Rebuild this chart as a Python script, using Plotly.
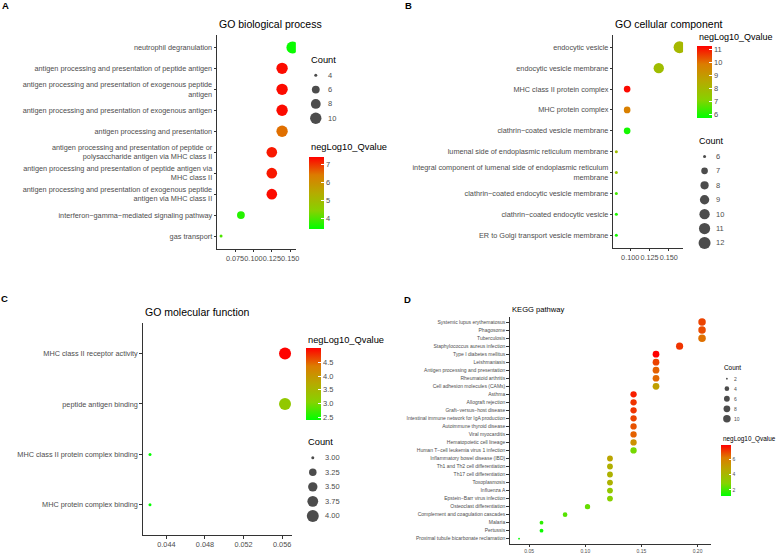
import math
import plotly.graph_objects as go

W, H = 778, 554
FONT = "Liberation Sans, Arial, Helvetica, sans-serif"
GRAY = "#4D4D4D"
AXC = "#333333"

# ---------------- data ----------------
bp_terms = [
    "neutrophil degranulation",
    "antigen processing and presentation of peptide antigen",
    "antigen processing and presentation of exogenous peptide<br>antigen",
    "antigen processing and presentation of exogenous antigen",
    "antigen processing and presentation",
    "antigen processing and presentation of peptide or<br>polysaccharide antigen via MHC class II",
    "antigen processing and presentation of peptide antigen via<br>MHC class II",
    "antigen processing and presentation of exogenous peptide<br>antigen via MHC class II",
    "interferon−gamma−mediated signaling pathway",
    "gas transport",
]
bp_ratio = [0.153, 0.139, 0.139, 0.139, 0.139, 0.125, 0.125, 0.125, 0.083, 0.056]
bp_count = [11, 10, 10, 10, 10, 9, 9, 9, 6, 4]
bp_q = [3.5, 7.3, 7.3, 7.3, 6.5, 7.2, 7.2, 7.3, 3.7, 4.0]
bp_count_legend = [4, 6, 8, 10]
bp_q_ticks = [4, 5, 6, 7]

cc_terms = [
    "endocytic vesicle",
    "endocytic vesicle membrane",
    "MHC class II protein complex",
    "MHC protein complex",
    "clathrin−coated vesicle membrane",
    "lumenal side of endoplasmic reticulum membrane",
    "integral component of lumenal side of endoplasmic reticulum<br>membrane",
    "clathrin−coated endocytic vesicle membrane",
    "clathrin−coated endocytic vesicle",
    "ER to Golgi transport vesicle membrane",
]
cc_ratio = [0.164, 0.137, 0.096, 0.096, 0.096, 0.082, 0.082, 0.082, 0.082, 0.082]
cc_count = [12, 10, 7, 7, 7, 6, 6, 6, 6, 6]
cc_q = [8.0, 7.8, 11.1, 9.7, 5.9, 7.8, 7.5, 6.4, 6.0, 5.9]
cc_count_legend = [6, 7, 8, 9, 10, 11, 12]
cc_q_ticks = [6, 7, 8, 9, 10, 11]

mf_terms = [
    "MHC class II receptor activity",
    "peptide antigen binding",
    "MHC class II protein complex binding",
    "MHC protein complex binding",
]
mf_ratio = [0.0563, 0.0563, 0.0423, 0.0423]
mf_count = [4, 4, 3, 3]
mf_q = [5.0, 3.2, 2.4, 2.4]
mf_count_legend = [3.00, 3.25, 3.50, 3.75, 4.00]
mf_q_ticks = [2.5, 3.0, 3.5, 4.0, 4.5]

kegg_terms = [
    "Systemic lupus erythematosus", "Phagosome", "Tuberculosis",
    "Staphylococcus aureus infection", "Type I diabetes mellitus", "Leishmaniasis",
    "Antigen processing and presentation", "Rheumatoid arthritis",
    "Cell adhesion molecules (CAMs)", "Asthma", "Allograft rejection",
    "Graft−versus−host disease", "Intestinal immune network for IgA production",
    "Autoimmune thyroid disease", "Viral myocarditis", "Hematopoietic cell lineage",
    "Human T−cell leukemia virus 1 infection", "Inflammatory bowel disease (IBD)",
    "Th1 and Th2 cell differentiation", "Th17 cell differentiation", "Toxoplasmosis",
    "Influenza A", "Epstein−Barr virus infection", "Osteoclast differentiation",
    "Complement and coagulation cascades", "Malaria", "Pertussis",
    "Proximal tubule bicarbonate reclamation",
]
kegg_ratio = [0.204, 0.204, 0.204, 0.184, 0.163, 0.163, 0.163, 0.163, 0.163,
              0.143, 0.143, 0.143, 0.143, 0.143, 0.143, 0.143, 0.143,
              0.122, 0.122, 0.122, 0.122, 0.122, 0.122,
              0.102, 0.082, 0.061, 0.061, 0.041]
kegg_count = [10, 10, 10, 9, 8, 8, 8, 8, 8,
              7, 7, 7, 7, 7, 7, 7, 7,
              6, 6, 6, 6, 6, 6,
              5, 4, 3, 3, 2]
kegg_q = [7.0, 6.9, 6.4, 7.2, 7.9, 7.0, 6.6, 6.5, 5.0,
          7.5, 7.2, 7.2, 7.0, 6.8, 6.6, 5.5, 2.7,
          4.8, 4.4, 4.3, 4.3, 3.4, 3.0,
          2.5, 2.3, 1.8, 1.4, 1.3]
kegg_count_legend = [2, 4, 6, 8, 10]
kegg_q_ticks = [2, 4, 6]

# ggplot-like green -> red gradient (Lab interpolation approximated)
CSCALE = [[0.0, "#00FF00"], [0.25, "#86D200"], [0.5, "#B5AB00"],
          [0.75, "#DC7C00"], [1.0, "#FF0000"]]


def px(x):
    return x / W


def py(y):
    return 1 - y / H


def diam(v, vmin, vmax, dmin, dmax):
    t = (v - vmin) / (vmax - vmin)
    return dmin + (dmax - dmin) * math.sqrt(max(t, 0))


fig = go.Figure()
annotations = []

panels = [
    dict(terms=bp_terms, ratio=bp_ratio, count=bp_count, q=bp_q,
         box=(218, 297, 35, 250), xr=[0.0507, 0.1577], xt=[0.075, 0.100, 0.125, 0.150], fmt=".3f",
         yfont=7.3, xfont=7.3, dr=(3, 12), cnt=bp_count_legend, crange=(4, 11),
         cmin=3.43, cmax=7.39, qt=bp_q_ticks, qfmt="d",
         cb=dict(x=310, y=158, len=72, th=15), cbtitle=(310, 148),
         cl=dict(title=(310, 60), y0=75.7, dy=14.4, cx=317, lx=327), lfont=7.5, tfont=9.3,
         title="GO biological process", tpos=(218, 24), tsize=10.5,
         letter="A", lpos=(6, 6)),
    dict(terms=cc_terms, ratio=cc_ratio, count=cc_count, q=cc_q,
         box=(615.7, 685.7, 35, 249), xr=[0.0781, 0.1685], xt=[0.100, 0.125, 0.150], fmt=".3f",
         yfont=7.3, xfont=7.3, dr=(3, 12), cnt=cc_count_legend, crange=(6, 12),
         cmin=5.69, cmax=11.2, qt=cc_q_ticks, qfmt="d",
         cb=dict(x=700, y=46.7, len=71.6, th=15), cbtitle=(700, 37.5),
         cl=dict(title=(700, 141.7), y0=157.3, dy=14.5, cx=707.3, lx=717), lfont=7.5, tfont=9.0,
         title="GO cellular component", tpos=(615.7, 24), tsize=10.5,
         letter="B", lpos=(410, 6)),
    dict(terms=mf_terms, ratio=mf_ratio, count=mf_count, q=mf_q,
         box=(143.3, 293.3, 325, 538), xr=[0.04155, 0.05704], xt=[0.044, 0.048, 0.052, 0.056], fmt=".3f",
         yfont=7.3, xfont=7.3, dr=(3, 12), cnt=mf_count_legend, crange=(3, 4),
         cmin=2.38, cmax=5.01, qt=mf_q_ticks, qfmt=".1f",
         cb=dict(x=306.7, y=350.3, len=71.7, th=14.5), cbtitle=(306.7, 342),
         cl=dict(title=(306.7, 444.7), y0=460.3, dy=14.6, cx=314, lx=324), lfont=7.5, tfont=9.3,
         title="GO molecular function", tpos=(144, 313.7), tsize=10.5,
         letter="C", lpos=(5, 300.5)),
    dict(terms=kegg_terms, ratio=kegg_ratio, count=kegg_count, q=kegg_q,
         box=(511.7, 714, 319, 546.5), xr=[0.0327, 0.2122], xt=[0.05, 0.10, 0.15, 0.20], fmt=".2f",
         yfont=5.0, xfont=5.0, dr=(1.8, 7.5), cnt=kegg_count_legend, crange=(2, 10),
         cmin=1.25, cmax=7.9, qt=kegg_q_ticks, qfmt="d",
         cb=dict(x=724, y=447, len=51, th=10), cbtitle=(724, 441),
         cl=dict(title=(724.5, 369.7), y0=380.7, dy=10.1, cx=729.7, lx=735), lfont=5.0, tfont=6.4,
         title="KEGG pathway", tpos=(512, 311), tsize=7.6,
         letter="D", lpos=(409, 301)),
]

layout_axes = {}
leg_x, leg_y, leg_s = [], [], []

for i, p in enumerate(panels, start=1):
    x0, x1, y0, y1 = p["box"]
    n = len(p["terms"])
    xa = "x" if i == 1 else f"x{i}"
    ya = "y" if i == 1 else f"y{i}"
    sizes = [diam(c, p["crange"][0], p["crange"][1], *p["dr"]) for c in p["count"]]
    fig.add_trace(go.Scatter(
        x=p["ratio"], y=p["terms"], mode="markers", xaxis=xa, yaxis=ya,
        showlegend=False,
        marker=dict(size=sizes, color=p["q"], colorscale=CSCALE,
                    cmin=p["cmin"], cmax=p["cmax"], line=dict(width=0), opacity=1,
                    showscale=True,
                    colorbar=dict(
                        x=px(p["cb"]["x"]), xanchor="left", xref="paper",
                        y=py(p["cb"]["y"]), yanchor="top", yref="paper",
                        len=p["cb"]["len"], lenmode="pixels",
                        thickness=p["cb"]["th"], thicknessmode="pixels",
                        xpad=0, ypad=0, outlinewidth=0,
                        tickmode="array", tickvals=p["qt"],
                        ticktext=[format(v, p["qfmt"]) for v in p["qt"]],
                        ticks="inside", ticklen=max(2, p["cb"]["th"] / 5), tickcolor="white", tickwidth=1,
                        tickfont=dict(family=FONT, size=p["lfont"], color=GRAY),
                        title=dict(text=""),
                    )),
    ))
    kx = "xaxis" if i == 1 else f"xaxis{i}"
    ky = "yaxis" if i == 1 else f"yaxis{i}"
    layout_axes[kx] = dict(
        domain=[px(x0), px(x1)], range=p["xr"], anchor=ya,
        showline=True, linecolor=AXC, linewidth=1, mirror=False,
        showgrid=False, zeroline=False,
        ticks="outside", ticklen=2.5, tickcolor=AXC, tickwidth=1,
        tickmode="array", tickvals=p["xt"], ticktext=[format(v, p["fmt"]) for v in p["xt"]],
        tickangle=0, tickfont=dict(family=FONT, size=p["xfont"], color=GRAY),
    )
    layout_axes[ky] = dict(
        domain=[py(y1), py(y0)], type="category", categoryorder="array",
        categoryarray=p["terms"], range=[n - 1 + 0.6, -0.6], anchor=xa,
        showline=True, linecolor=AXC, linewidth=1,
        showgrid=False, zeroline=False,
        ticks="outside", ticklen=2.5, tickcolor=AXC, tickwidth=1,
        tickfont=dict(family=FONT, size=p["yfont"], color=GRAY),
    )
    annotations.append(dict(text=p["title"], x=px(p["tpos"][0]), y=py(p["tpos"][1]),
                            xref="paper", yref="paper", xanchor="left", yanchor="middle",
                            showarrow=False, font=dict(family=FONT, size=p["tsize"], color="black")))
    annotations.append(dict(text="<b>" + p["letter"] + "</b>", x=px(p["lpos"][0]), y=py(p["lpos"][1]),
                            xref="paper", yref="paper", xanchor="center", yanchor="middle",
                            showarrow=False, font=dict(family=FONT, size=9.5, color="black")))
    annotations.append(dict(text="negLog10_Qvalue", x=px(p["cbtitle"][0]), y=py(p["cbtitle"][1]),
                            xref="paper", yref="paper", xanchor="left", yanchor="middle",
                            showarrow=False, font=dict(family=FONT, size=p["tfont"], color="black")))
    cl = p["cl"]
    annotations.append(dict(text="Count", x=px(cl["title"][0]), y=py(cl["title"][1]),
                            xref="paper", yref="paper", xanchor="left", yanchor="middle",
                            showarrow=False, font=dict(family=FONT, size=p["tfont"], color="black")))
    for j, v in enumerate(p["cnt"]):
        yy = cl["y0"] + j * cl["dy"]
        leg_x.append(cl["cx"])
        leg_y.append(yy)
        leg_s.append(diam(v, p["crange"][0], p["crange"][1], *p["dr"]))
        lab = format(v, ".2f") if isinstance(v, float) else str(v)
        annotations.append(dict(text=lab, x=px(cl["lx"]), y=py(yy),
                                xref="paper", yref="paper", xanchor="left", yanchor="middle",
                                showarrow=False, font=dict(family=FONT, size=p["lfont"], color=GRAY)))

# overlay axis in pixel units for the size-legend keys
fig.add_trace(go.Scatter(x=leg_x, y=leg_y, mode="markers", xaxis="x5", yaxis="y5",
                         showlegend=False, hoverinfo="skip",
                         marker=dict(size=leg_s, color="black", line=dict(width=0))))
layout_axes["xaxis5"] = dict(domain=[0, 1], range=[0, W], visible=False, fixedrange=True, anchor="y5")
layout_axes["yaxis5"] = dict(domain=[0, 1], range=[H, 0], visible=False, fixedrange=True, anchor="x5")

fig.update_layout(
    width=W, height=H, margin=dict(l=0, r=0, t=0, b=0),
    paper_bgcolor="white", plot_bgcolor="rgba(0,0,0,0)",
    font=dict(family=FONT, color=GRAY),
    showlegend=False, annotations=annotations,
    **layout_axes,
)

# remove the browser's default 8px body margin so the figure sits at the page origin
fig.write_html("out.html", config={"displayModeBar": False},
               post_script="document.body.style.margin='0';document.body.style.overflow='hidden';")
